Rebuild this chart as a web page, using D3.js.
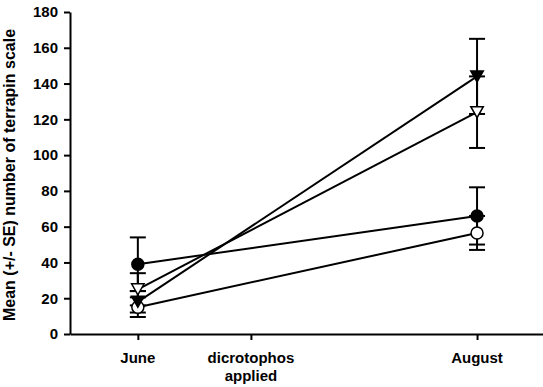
<!DOCTYPE html>
<html>
<head>
<meta charset="utf-8">
<script src="https://cdn.jsdelivr.net/npm/d3@7"></script>
<style>
  html, body { margin: 0; padding: 0; background: #fff; }
  svg { display: block; }
  text { font-family: "Liberation Sans", Arial, sans-serif; font-weight: bold; fill: #000; }
</style>
</head>
<body>
<svg id="chart" width="543" height="387"></svg>
<script>
// Sampling times (weeks after the June count) and their axis labels
const tickWeeks = [0, 3, 9];
const tickLabels = ["June", "dicrotophos\napplied", "August"];
const sampleWeeks = [0, 9];

// Treatment series: mean counts and standard errors at June and August
const filledCircleMean = [39, 66];
const filledCircleSE = [15, 16];
const openCircleMean = [15, 56.5];
const openCircleSE = [5.5, 9.5];
const filledTriangleMean = [18, 144];
const filledTriangleSE = [6, 21];
const openTriangleMean = [25, 124];
const openTriangleSE = [9, 20];

const yTicks = [0, 20, 40, 60, 80, 100, 120, 140, 160, 180];

const series = [
  { mean: filledCircleMean, se: filledCircleSE, shape: "circle", fill: "#000" },
  { mean: openCircleMean, se: openCircleSE, shape: "circle", fill: "#fff" },
  { mean: filledTriangleMean, se: filledTriangleSE, shape: "triangle", fill: "#000" },
  { mean: openTriangleMean, se: openTriangleSE, shape: "triangle", fill: "#fff" }
];

const svg = d3.select("#chart");
const x = d3.scaleLinear().domain([-1.8, 10.75]).range([70, 543]);
const y = d3.scaleLinear().domain([0, 180]).range([334, 12]);

// Y axis
const yAxis = svg.append("g")
  .attr("transform", "translate(70,0)")
  .call(d3.axisLeft(y).tickValues(yTicks).tickSize(6).tickPadding(6).tickSizeOuter(0));
yAxis.select(".domain").attr("stroke", "#000").attr("stroke-width", 2);
yAxis.selectAll(".tick line").attr("stroke", "#000").attr("stroke-width", 2);
yAxis.selectAll(".tick text").style("font-size", "15px").style("font-family", "Liberation Sans, Arial, sans-serif").style("font-weight", "bold").attr("fill", "#000");

// X axis
const xAxis = svg.append("g")
  .attr("transform", "translate(0,334)")
  .call(d3.axisBottom(x).tickValues(tickWeeks).tickSize(6).tickSizeOuter(0).tickFormat(""));
xAxis.select(".domain").attr("stroke", "#000").attr("stroke-width", 2);
xAxis.selectAll(".tick line").attr("stroke", "#000").attr("stroke-width", 2);

// Category labels, possibly on two lines
tickWeeks.forEach((w, i) => {
  const t = svg.append("text")
    .attr("x", x(w))
    .attr("y", 363)
    .attr("text-anchor", "middle")
    .style("font-size", "15px");
  tickLabels[i].split("\n").forEach((line, j) => {
    t.append("tspan").attr("x", x(w)).attr("dy", j === 0 ? 0 : 17.5).text(line);
  });
});

// Y axis title
svg.append("text")
  .attr("transform", `translate(15,${(y(0) + y(180)) / 2 + 2}) rotate(-90)`)
  .attr("text-anchor", "middle")
  .style("font-size", "16px")
  .text("Mean (+/- SE) number of terrapin scale");

const plot = svg.append("g");

// Connecting lines
const line = d3.line().x((d, i) => x(sampleWeeks[i])).y(d => y(d));
series.forEach(s => {
  plot.append("path")
    .attr("d", line(s.mean))
    .attr("fill", "none")
    .attr("stroke", "#000")
    .attr("stroke-width", 2);
});

// Error bars
const capHalf = 8;
series.forEach(s => {
  s.mean.forEach((m, i) => {
    const cx = x(sampleWeeks[i]);
    const lo = y(m - s.se[i]);
    const hi = y(m + s.se[i]);
    plot.append("line").attr("x1", cx).attr("x2", cx).attr("y1", lo).attr("y2", hi)
      .attr("stroke", "#000").attr("stroke-width", 2);
    [lo, hi].forEach(v => {
      plot.append("line").attr("x1", cx - capHalf).attr("x2", cx + capHalf).attr("y1", v).attr("y2", v)
        .attr("stroke", "#000").attr("stroke-width", 2);
    });
  });
});

// Markers
series.forEach(s => {
  s.mean.forEach((m, i) => {
    const cx = x(sampleWeeks[i]);
    const cy = y(m);
    if (s.shape === "circle") {
      plot.append("circle").attr("cx", cx).attr("cy", cy).attr("r", 6)
        .attr("fill", s.fill).attr("stroke", "#000").attr("stroke-width", 1.5);
    } else {
      const h = 11, w = 12.5;
      plot.append("path")
        .attr("d", `M${cx - w / 2},${cy - h / 2}L${cx + w / 2},${cy - h / 2}L${cx},${cy + h / 2}Z`)
        .attr("fill", s.fill).attr("stroke", "#000").attr("stroke-width", 1.5)
        .attr("stroke-linejoin", "miter");
    }
  });
});
</script>
</body>
</html>
